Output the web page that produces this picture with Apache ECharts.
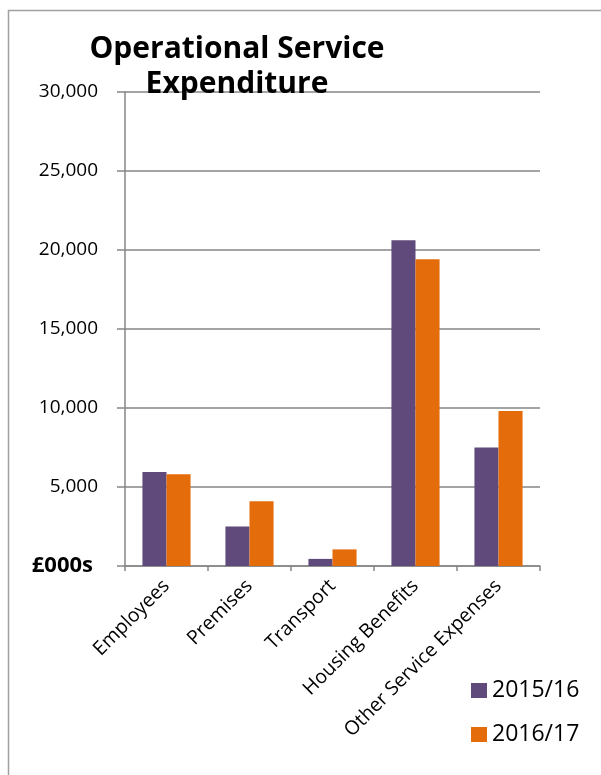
<!DOCTYPE html>
<html>
<head>
<meta charset="utf-8">
<script src="https://cdn.jsdelivr.net/npm/echarts@6/dist/echarts.min.js"></script>
<style>
html,body{margin:0;padding:0;background:#fff;}
#chart{width:601px;height:775px;}
</style>
</head>
<body>
<div id="chart"></div>
<script>
const categories = ['Employees', 'Premises', 'Transport', 'Housing Benefits', 'Other Service Expenses'];
const series2015 = [5950, 2500, 450, 20600, 7500];
const series2016 = [5800, 4100, 1050, 19400, 9800];
const seriesNames = ['2015/16', '2016/17'];
const yTicks = { min: 0, max: 30000, interval: 5000 };
const titleLines = ['Operational Service', 'Expenditure'];

const FONT = 'Open Sans';
const chart = echarts.init(document.getElementById('chart'), null, { renderer: 'canvas' });
chart.setOption({
  animation: false,
  backgroundColor: '#ffffff',
  textStyle: { fontFamily: FONT },
  graphic: [
    {
      type: 'rect', silent: true, z: -10,
      shape: { x: 8.5, y: 10.5, width: 800, height: 900 },
      style: { fill: 'none', stroke: '#a0a0a0', lineWidth: 1.5 }
    },
    {
      type: 'text', z: 100,
      x: 237, y: 31.5,
      style: {
        text: titleLines.join('\n'),
        font: 'bold 30px ' + FONT,
        fill: '#000',
        align: 'center',
        verticalAlign: 'top',
        lineHeight: 35
      }
    }
  ],
  grid: { left: 125, right: 61, top: 91.7, bottom: 209, containLabel: false },
  legend: {
    orient: 'vertical',
    left: 471,
    top: 679,
    padding: 0,
    itemWidth: 16,
    itemHeight: 15,
    itemGap: 21,
    icon: 'rect',
    textStyle: { fontSize: 23, color: '#000', fontFamily: FONT },
    data: seriesNames
  },
  xAxis: {
    type: 'category',
    data: categories,
    axisLine: { lineStyle: { color: '#868686', width: 1.5 } },
    axisTick: { show: true, length: 5, lineStyle: { color: '#868686', width: 1.5 } },
    axisLabel: { rotate: 45, margin: 17, fontSize: 19.5, color: '#000', fontFamily: FONT, interval: 0 }
  },
  yAxis: {
    type: 'value',
    min: yTicks.min, max: yTicks.max, interval: yTicks.interval,
    axisLine: { show: true, lineStyle: { color: '#868686', width: 1.5 } },
    axisTick: { show: true, inside: false, length: 8, lineStyle: { color: '#868686', width: 1.5 } },
    splitLine: { show: true, lineStyle: { color: '#868686', width: 1.5 } },
    axisLabel: {
      margin: 27, fontSize: 19, color: '#000', fontFamily: FONT,
      formatter: function (v) { return v === 0 ? '{b|£000s}' : v.toLocaleString('en-GB'); },
      rich: { b: { fontWeight: 'bold', fontSize: 22, fontFamily: FONT, color: '#000', padding: [0, 5, 0, 0] } }
    }
  },
  series: [
    {
      name: seriesNames[0], type: 'bar', data: series2015,
      barGap: '0%', barCategoryGap: '42%',
      itemStyle: { color: '#604A7B' }
    },
    {
      name: seriesNames[1], type: 'bar', data: series2016,
      barGap: '0%', barCategoryGap: '42%',
      itemStyle: { color: '#E46C0A' }
    }
  ]
});
</script>
</body>
</html>
